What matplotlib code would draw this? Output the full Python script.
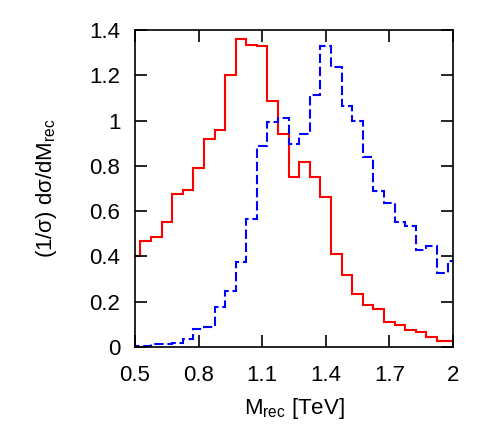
import numpy as np
import matplotlib
matplotlib.use("Agg")
import matplotlib.pyplot as plt
from matplotlib.ticker import FuncFormatter

# --------------------------
# Datos (centros de bin, ancho 0.05 TeV)
# --------------------------
m_rec = [0.50, 0.55, 0.60, 0.65, 0.70, 0.75, 0.80, 0.85, 0.90, 0.95,
         1.00, 1.05, 1.10, 1.15, 1.20, 1.25, 1.30, 1.35, 1.40, 1.45,
         1.50, 1.55, 1.60, 1.65, 1.70, 1.75, 1.80, 1.85, 1.90, 1.95, 2.00]

red_vals = [0.400, 0.468, 0.485, 0.554, 0.674, 0.693, 0.790, 0.919, 0.959, 1.203,
            1.360, 1.335, 1.329, 1.088, 0.941, 0.752, 0.816, 0.753, 0.662, 0.412,
            0.316, 0.232, 0.187, 0.168, 0.110, 0.099, 0.074, 0.066, 0.044, 0.026, 0.026]

blue_vals = [0.006, 0.006, 0.014, 0.012, 0.016, 0.034, 0.081, 0.087, 0.176, 0.249,
             0.376, 0.566, 0.888, 0.993, 1.010, 0.898, 0.940, 1.115, 1.328, 1.238,
             1.066, 0.999, 0.840, 0.688, 0.634, 0.554, 0.534, 0.427, 0.447, 0.325, 0.381]

xticks = [0.5, 0.8, 1.1, 1.4, 1.7, 2.0]
yticks = [0, 0.2, 0.4, 0.6, 0.8, 1.0, 1.2, 1.4]

# --------------------------
# Estilo
# --------------------------
plt.rcParams["font.family"] = ["Liberation Sans", "DejaVu Sans"]
plt.rcParams["mathtext.fontset"] = "custom"
plt.rcParams["mathtext.rm"] = "Liberation Sans"
plt.rcParams["mathtext.it"] = "Liberation Sans"
plt.rcParams["font.size"] = 16

fig = plt.figure(figsize=(4.82, 4.42), dpi=100)
ax = fig.add_axes([0.2801, 0.2149, 0.9398 - 0.2801, 0.9321 - 0.2149])

centers = np.array(m_rec)
width = 0.05
edges = np.append(centers - width / 2, centers[-1] + width / 2)

ax.stairs(red_vals, edges, color="#ff0000", lw=1.5, baseline=None)
ax.stairs(blue_vals, edges, color="#0000ff", lw=1.5, baseline=None,
          linestyle=(0, (4.5, 1.8)))

ax.set_xlim(0.5, 2.0)
ax.set_ylim(0, 1.4)
ax.set_xticks(xticks)
ax.set_yticks(yticks)
fmt = FuncFormatter(lambda v, p: "%g" % round(v, 2))
ax.xaxis.set_major_formatter(fmt)
ax.yaxis.set_major_formatter(fmt)

ax.tick_params(direction="in", length=8.4, width=1.2, top=True, right=True,
               labelsize=16)
ax.tick_params(axis="x", pad=13)
ax.tick_params(axis="y", pad=10.5)
for s in ax.spines.values():
    s.set_linewidth(1.2)

ax.set_xlabel(r"M$_{\mathrm{rec}}$ [TeV]", fontsize=16, labelpad=7)
ax.set_ylabel(r"(1/σ) dσ/dM$_{\mathrm{rec}}$", fontsize=16, labelpad=22)

fig.savefig("out.png", dpi=100)
